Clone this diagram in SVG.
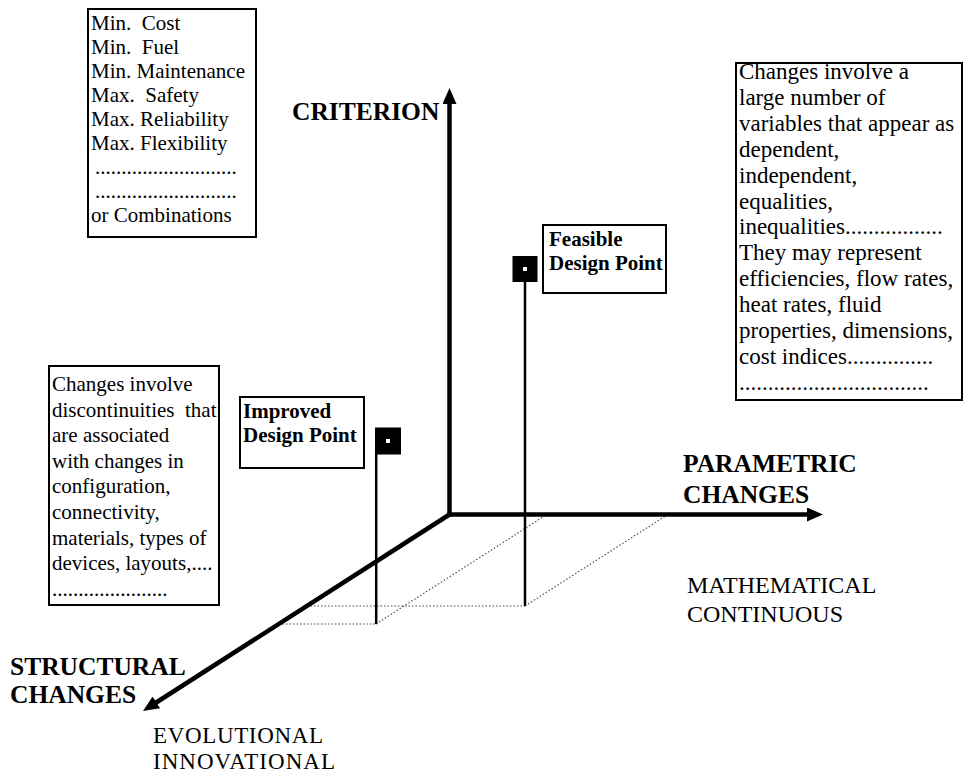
<svg xmlns="http://www.w3.org/2000/svg" width="965" height="774" viewBox="0 0 965 774">
<style>
.box{fill:#fff;stroke:#000;stroke-width:2}
.t{font-family:"Liberation Serif","Times New Roman",serif;font-size:21px;fill:#000;white-space:pre}
.tr{font-family:"Liberation Serif","Times New Roman",serif;font-size:23px;fill:#000;white-space:pre}
.b{font-family:"Liberation Serif","Times New Roman",serif;font-weight:bold;font-size:21px;fill:#000;white-space:pre}
.ax{font-family:"Liberation Serif","Times New Roman",serif;font-weight:bold;font-size:25.5px;fill:#000}
.cap{font-family:"Liberation Serif","Times New Roman",serif;font-size:24px;fill:#000}
.cap2{font-family:"Liberation Serif","Times New Roman",serif;font-size:23px;fill:#000}
.axis{stroke:#000;stroke-width:4.5;fill:none;marker-end:url(#ah)}
.dot{stroke:#444;stroke-width:1.1;stroke-dasharray:1.5 2;fill:none}
.stem{stroke:#000;stroke-width:2.5;fill:none}
.pt{fill:#000}
.ptc{fill:#fff}
</style>
<defs>
<marker id="ah" markerUnits="userSpaceOnUse" markerWidth="16" markerHeight="14" refX="3" refY="7" orient="auto">
<path d="M0,0 L16,7 L0,14 z" fill="#000"/>
</marker>
</defs>
<rect width="965" height="774" fill="#fff"/>

<g id="connectors">
<line class="dot" x1="307" y1="606" x2="525" y2="606"/>
<line class="dot" x1="279" y1="624" x2="376" y2="624"/>
<line class="dot" x1="376" y1="624" x2="546" y2="515"/>
<line class="dot" x1="525" y1="606" x2="667" y2="515"/>
<line class="stem" x1="525" y1="281" x2="525" y2="606"/>
<line class="stem" x1="376.2" y1="454" x2="376.2" y2="624"/>
<line class="axis" x1="449.5" y1="516.7" x2="449.5" y2="101"/>
<line class="axis" x1="447.3" y1="514.5" x2="810" y2="514.5"/>
<line class="axis" x1="449.5" y1="514.5" x2="153.9" y2="704"/>
</g>

<g id="criteria-box">
<rect class="box" x="88" y="9" width="168" height="228"/>
<text class="t" x="91" y="30">Min.  Cost</text>
<text class="t" x="91" y="54">Min.  Fuel</text>
<text class="t" x="91" y="78">Min. Maintenance</text>
<text class="t" x="91" y="102">Max.  Safety</text>
<text class="t" x="91" y="126">Max. Reliability</text>
<text class="t" x="91" y="150">Max. Flexibility</text>
<text class="t" x="95" y="174">...........................</text>
<text class="t" x="95" y="198">...........................</text>
<text class="t" x="91" y="222">or Combinations</text>
</g>

<g id="parametric-box">
<rect class="box" x="736" y="63" width="226" height="337"/>
<text class="tr" x="739" y="79">Changes involve a</text>
<text class="tr" x="739" y="104.9">large number of</text>
<text class="tr" x="739" y="130.8">variables that appear as</text>
<text class="tr" x="739" y="156.7">dependent,</text>
<text class="tr" x="739" y="182.6">independent,</text>
<text class="tr" x="739" y="208.5">equalities,</text>
<text class="tr" x="739" y="234.4">inequalities.................</text>
<text class="tr" x="739" y="260.3">They may represent</text>
<text class="tr" x="739" y="286.2">efficiencies, flow rates,</text>
<text class="tr" x="739" y="312.1">heat rates, fluid</text>
<text class="tr" x="739" y="338">properties, dimensions,</text>
<text class="tr" x="739" y="363.9">cost indices...............</text>
<text class="tr" x="739" y="389.8">.................................</text>
</g>

<g id="structural-box">
<rect class="box" x="49" y="366" width="170" height="239"/>
<text class="t" x="52" y="391">Changes involve</text>
<text class="t" x="52" y="416.6">discontinuities  that</text>
<text class="t" x="52" y="442.2">are associated</text>
<text class="t" x="52" y="467.8">with changes in</text>
<text class="t" x="52" y="493.4">configuration,</text>
<text class="t" x="52" y="519">connectivity,</text>
<text class="t" x="52" y="544.6">materials, types of</text>
<text class="t" x="52" y="570.2">devices, layouts,....</text>
<text class="t" x="52" y="595.8">......................</text>
</g>

<g id="improved-label">
<rect class="box" x="240" y="397" width="124" height="71"/>
<text class="b" x="243" y="418">Improved</text>
<text class="b" x="243" y="442">Design Point</text>
</g>

<g id="feasible-label">
<rect class="box" x="543" y="225" width="123" height="68"/>
<text class="b" x="549" y="246">Feasible</text>
<text class="b" x="549" y="270">Design Point</text>
</g>

<g id="feasible-point">
<rect class="pt" x="512.5" y="256" width="25" height="26"/>
<rect class="ptc" x="523" y="267" width="4" height="4"/>
</g>

<g id="improved-point">
<rect class="pt" x="375" y="427.5" width="26" height="27"/>
<rect class="ptc" x="386" y="439" width="4" height="4"/>
</g>

<g id="axis-labels">
<text class="ax" x="292" y="120">CRITERION</text>
<text class="ax" x="683" y="472">PARAMETRIC</text>
<text class="ax" x="683" y="503">CHANGES</text>
<text class="ax" x="10" y="675">STRUCTURAL</text>
<text class="ax" x="10" y="703">CHANGES</text>
<text class="cap" x="687" y="593">MATHEMATICAL</text>
<text class="cap" x="687" y="622">CONTINUOUS</text>
<text class="cap2" x="153" y="743" textLength="170" lengthAdjust="spacing">EVOLUTIONAL</text>
<text class="cap2" x="153" y="769" textLength="182" lengthAdjust="spacing">INNOVATIONAL</text>
</g>
</svg>
